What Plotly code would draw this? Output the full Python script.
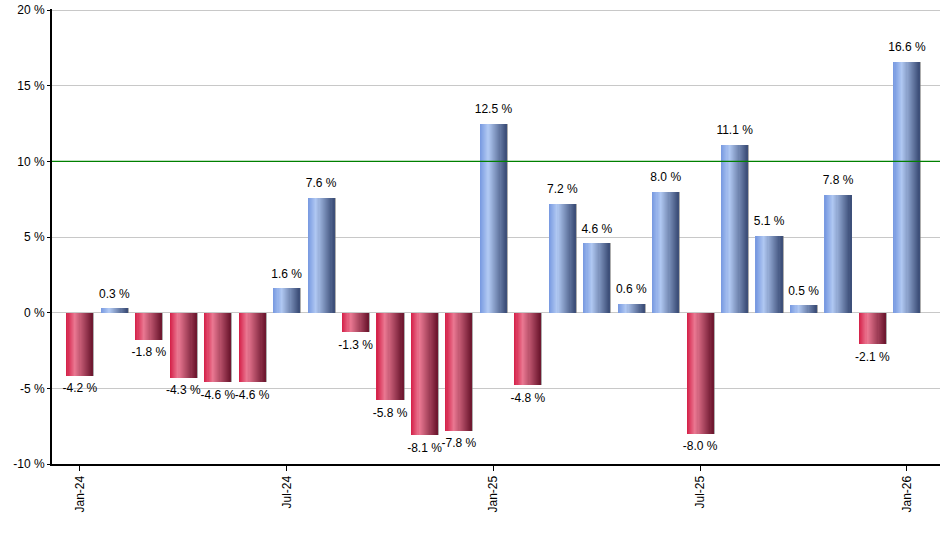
import plotly.graph_objects as go

months = ['Jan-24', 'Feb-24', 'Mar-24', 'Apr-24', 'May-24', 'Jun-24', 'Jul-24',
          'Aug-24', 'Sep-24', 'Oct-24', 'Nov-24', 'Dec-24', 'Jan-25', 'Feb-25',
          'Mar-25', 'Apr-25', 'May-25', 'Jun-25', 'Jul-25', 'Aug-25', 'Sep-25',
          'Oct-25', 'Nov-25', 'Dec-25', 'Jan-26']
returns = [-4.2, 0.3, -1.8, -4.3, -4.6, -4.6, 1.6, 7.6, -1.3, -5.8, -8.1, -7.8,
           12.5, -4.8, 7.2, 4.6, 0.6, 8.0, -8.0, 11.1, 5.1, 0.5, 7.8, -2.1, 16.6]
tick_months = ['Jan-24', 'Jul-24', 'Jan-25', 'Jul-25', 'Jan-26']
y_ticks = [-10, -5, 0, 5, 10, 15, 20]
target = 10

FONT = 'Liberation Sans, Arial, sans-serif'
BAR_W = 0.76
N_STRIPS = 24

# gradient stops across the bar (left -> right): base, highlight, dark
blue_stops = [(0.0, (118, 152, 224)), (0.32, (176, 200, 242)), (1.0, (58, 76, 118))]
red_stops = [(0.0, (212, 30, 70)), (0.32, (234, 120, 146)), (1.0, (108, 22, 46))]


def mix(stops, t):
    for (t0, c0), (t1, c1) in zip(stops, stops[1:]):
        if t <= t1:
            f = (t - t0) / (t1 - t0)
            return 'rgb(%d,%d,%d)' % tuple(round(a + (b - a) * f) for a, b in zip(c0, c1))
    return 'rgb(%d,%d,%d)' % stops[-1][1]


x = list(range(len(months)))
fig = go.Figure()

# faint shadow on the right edge of every bar
fig.add_trace(go.Bar(
    x=x, y=returns, width=0.05, offset=BAR_W / 2 - 0.01,
    marker=dict(color='rgba(120,120,120,0.6)', line=dict(width=0)),
    hoverinfo='skip', showlegend=False))

# each bar is drawn as thin vertical strips to fake the horizontal gradient
sw = BAR_W / N_STRIPS
for k in range(N_STRIPS):
    t = (k + 0.5) / N_STRIPS
    colors = [mix(blue_stops if v >= 0 else red_stops, t) for v in returns]
    fig.add_trace(go.Bar(
        x=x, y=returns, width=sw * (1.4 if k < N_STRIPS - 1 else 1.0),
        offset=-BAR_W / 2 + k * sw,
        marker=dict(color=colors, line=dict(width=0)),
        hoverinfo='skip', showlegend=False))

labels = ['%.1f %%' % v for v in returns]
fig.add_trace(go.Scatter(
    x=x, y=returns, mode='markers+text', text=labels,
    marker=dict(size=10, opacity=0),
    textposition=['top center' if v >= 0 else 'bottom center' for v in returns],
    textfont=dict(family=FONT, size=12, color='black'),
    showlegend=False, hoverinfo='skip'))

fig.add_shape(type='line', xref='paper', x0=0, x1=1, yref='y', y0=target, y1=target,
              line=dict(color='#008000', width=1.3))

fig.update_layout(
    width=940, height=550,
    margin=dict(l=52, r=0, t=9, b=86),
    plot_bgcolor='white', paper_bgcolor='white',
    barmode='overlay', bargap=0,
    font=dict(family=FONT, size=12, color='black'),
    xaxis=dict(
        range=[-0.81, 24.96], automargin=False,
        tickvals=[months.index(m) for m in tick_months], ticktext=tick_months,
        tickangle=-90, ticks='outside', ticklen=5, tickcolor='black',
        showline=True, linecolor='black', linewidth=2,
        showgrid=False, zeroline=False),
    yaxis=dict(
        # a hair above 20 so the top grid line is not dropped at the edge
        range=[-10, 20.07], automargin=False,
        tickvals=y_ticks, ticktext=['%d %%' % v for v in y_ticks],
        ticks='outside', ticklen=3, tickcolor='black',
        showline=True, linecolor='black', linewidth=2,
        showgrid=True, gridcolor='#c8c8c8', gridwidth=1,
        zeroline=False),
)

# drop the browser's default 8px body margin so the figure sits at the page corner
fig.write_html('out.html', config={'displayModeBar': False},
               post_script="document.body.style.margin='0';")
